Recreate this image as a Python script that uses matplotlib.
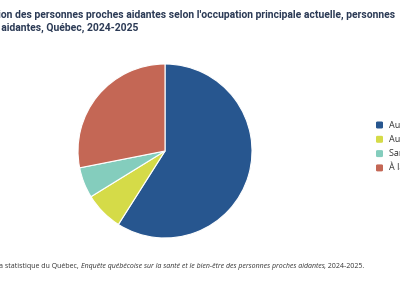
import matplotlib.pyplot as plt
from matplotlib.patches import FancyBboxPatch

# données
categories = ["Au travail", "Aux études", "Sans emploi", "À la retraite"]
valeurs = [59.0, 7.2, 5.7, 28.1]
couleurs = ["#27568f", "#d5db48", "#84cdbd", "#c46755"]

titre = ("Répartition des personnes proches aidantes selon l'occupation principale actuelle, personnes\n"
         "proches aidantes, Québec, 2024-2025")

W, H = 400, 284
fig = plt.figure(figsize=(W / 100, H / 100), dpi=100)

# camembert
cx, cy, r = 165, 151, 87
ax = fig.add_axes([(cx - r) / W, 1 - (cy + r) / H, 2 * r / W, 2 * r / H])
ax.pie(
    valeurs,
    colors=couleurs,
    startangle=90,
    counterclock=False,
    wedgeprops=dict(edgecolor="white", linewidth=0.8),
)
ax.set_xlim(-1, 1)
ax.set_ylim(-1, 1)
ax.set_aspect("equal")

# titre (coupé à gauche comme dans l'image)
fig.text(-39 / W, 1 - 10 / H, titre, ha="left", va="top",
         fontsize=7.5, fontweight="bold", family="Roboto",
         color="#2b3a55", linespacing=1.3)

# légende
for i, cat in enumerate(categories):
    y = 125 + i * 14.3
    fig.patches.append(FancyBboxPatch(
        (376 / W, 1 - (y + 3.5) / H), 7 / W, 7 / H,
        boxstyle="round,pad=0,rounding_size=0.004",
        transform=fig.transFigure, facecolor=couleurs[i], edgecolor="none"))
    fig.text(389 / W, 1 - y / H, cat, ha="left", va="center",
             fontsize=6.5, family="Open Sans", color="#333333")

# source
fs = 5.0
ys = 1 - 268 / H
t1 = fig.text(-66 / W, ys, "Source : Institut de la statistique du Québec,",
              ha="left", va="baseline", fontsize=fs, family="Open Sans", color="#333333")
fig.canvas.draw()
t2 = fig.text((t1.get_window_extent().x1 + 1.8) / W, ys,
              "Enquête québécoise sur la santé et le bien-être des personnes proches aidantes",
              ha="left", va="baseline", fontsize=fs, family="Open Sans", style="italic",
              color="#333333")
fig.canvas.draw()
fig.text(t2.get_window_extent().x1 / W, ys, ", 2024-2025.",
         ha="left", va="baseline", fontsize=fs, family="Open Sans", color="#333333")

fig.savefig("out.png", dpi=100)
